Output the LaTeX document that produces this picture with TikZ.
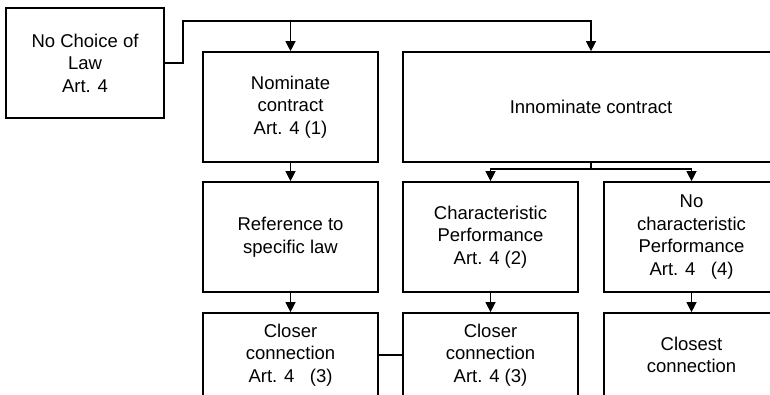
\documentclass[tikz,border=0pt]{standalone}
\usepackage{fontspec}
\setmainfont{Liberation Sans}
\usepackage{tikz}
\usetikzlibrary{arrows.meta}
\usetikzlibrary{positioning}
\tikzset{box/.style = {draw, line width = 1.7, align = center, inner sep = 0,
    minimum width = 175, minimum height = 110, font = \fontsize{18.5}{22.5}\selectfont}}
\tikzset{conn/.style = {line width = 1.3}}
\tikzset{arr/.style = {conn, -{Triangle[length = 10, width = 10]}}}

\begin{document}
\begin{tikzpicture}[x = 1pt, y = -1pt]

      \useasboundingbox (0, 0) rectangle (770, 394);
      \clip (0, 0) rectangle (770, 394);

      \node [box, minimum width = 158] (nochoice) at (85, 63) {No Choice of\\Law\\Art. 4};
      \node [box] (nominate) at (290.5, 107) {Nominate\\contract\\Art. 4 (1)};
      \node [box, minimum width = 376] (innominate) at (591, 107) {Innominate contract};
      \node [box] (reference) at (290.5, 237) {Reference to\\specific law};
      \node [box] (charperf) at (490.5, 237) {Characteristic\\Performance\\Art. 4 (2)};
      \node [box] (nocharperf) at (691.5, 237) {No\\characteristic\\Performance\\Art. 4~~~(4)};
      \node [box, minimum height = 84] (closer1) at (290.5, 355) {Closer\\connection\\Art. 4~~~(3)};
      \node [box, minimum height = 84] (closer2) at (490.5, 355) {Closer\\connection\\Art. 4 (3)};
      \node [box, minimum height = 84] (closest) at (691.5, 355) {Closest\\connection};

      \coordinate (bus) at (183, 21);
      \coordinate (fork) at (591, 169);

      \draw [arr] (nochoice.east) -| (bus) -| (innominate.north);
      \draw [arr] (bus -| nominate.north) -- (nominate.north);
      \draw [arr] (nominate) -- (reference);
      \draw [conn] (innominate.south) -- (fork);
      \draw [arr] (fork) -| (charperf.north);
      \draw [arr] (fork) -| (nocharperf.north);
      \draw [arr] (reference) -- (closer1);
      \draw [arr] (charperf) -- (closer2);
      \draw [arr] (nocharperf) -- (closest);
      \draw [conn] (closer1) -- (closer2);
    \end{tikzpicture}
\end{document}
